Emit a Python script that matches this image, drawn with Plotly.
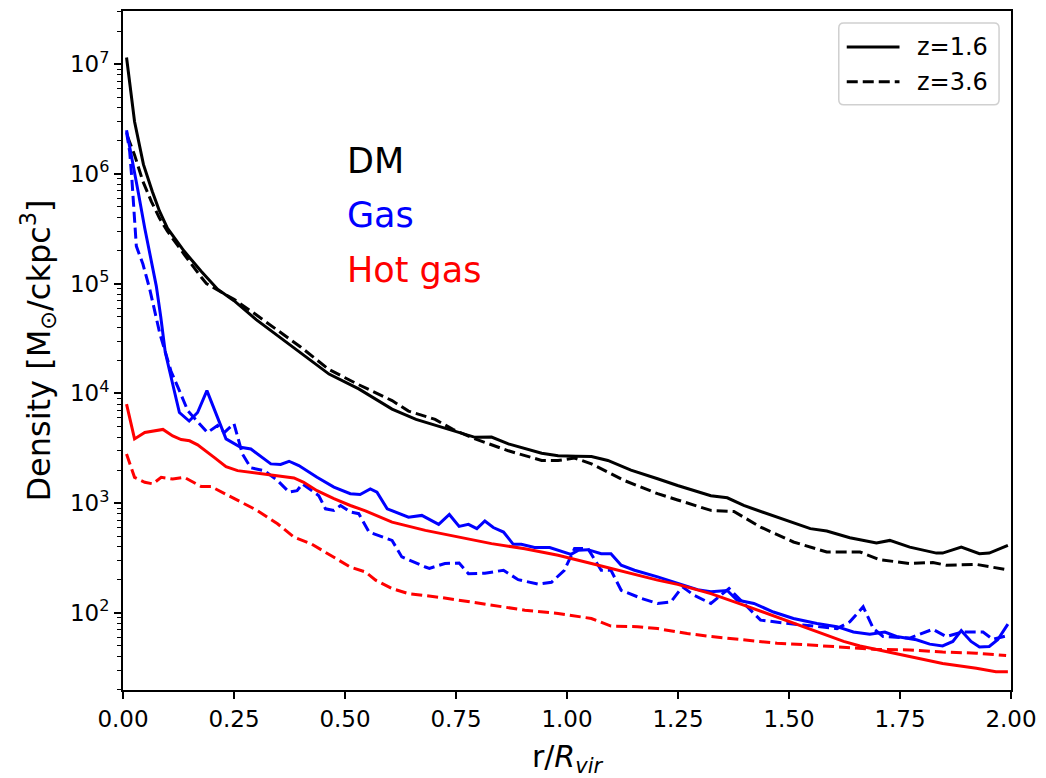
import plotly.graph_objects as go

# ---------------- data ----------------
dm_z16_x = [0.008, 0.026, 0.046, 0.066, 0.082, 0.10, 0.138, 0.176, 0.213, 0.25, 0.30, 0.35, 0.40,
            0.464, 0.531, 0.606, 0.66, 0.718, 0.75, 0.793, 0.83, 0.868, 0.943, 0.98, 1.02, 1.055,
            1.092, 1.144, 1.204, 1.249, 1.324, 1.361, 1.398, 1.473, 1.548, 1.585, 1.637, 1.697,
            1.727, 1.772, 1.832, 1.846, 1.888, 1.929, 1.951, 1.993]
dm_z16_y = [1.15e7, 3.0e6, 1.22e6, 6.9e5, 4.6e5, 3.2e5, 1.97e5, 1.3e5, 8.9e4, 7.0e4, 4.7e4, 3.3e4, 2.35e4,
            1.5e4, 1.1e4, 7.2e3, 5.8e3, 4.9e3, 4.5e3, 3.98e3, 4.0e3, 3.47e3, 2.85e3, 2.71e3, 2.68e3, 2.66e3,
            2.45e3, 2.0e3, 1.67e3, 1.45e3, 1.17e3, 1.12e3, 953, 746, 586, 557, 485, 434,
            458, 398, 351, 351, 398, 347, 351, 413]

dm_z36_x = [0.01, 0.026, 0.045, 0.064, 0.082, 0.10, 0.128, 0.138, 0.176, 0.188, 0.232, 0.25, 0.30,
            0.35, 0.40, 0.464, 0.531, 0.606, 0.643, 0.703, 0.743, 0.793, 0.868, 0.943, 0.98, 1.017,
            1.055, 1.129, 1.204, 1.249, 1.324, 1.376, 1.436, 1.51, 1.585, 1.66, 1.704, 1.772, 1.824,
            1.854, 1.922, 1.985]
dm_z36_y = [2.2e6, 1.49e6, 8.5e5, 5.6e5, 3.96e5, 3.0e5, 2.1e5, 1.84e5, 1.15e5, 1.0e5, 7.9e4, 7.2e4, 5.2e4,
            3.7e4, 2.65e4, 1.65e4, 1.2e4, 8.6e3, 6.9e3, 5.8e3, 4.7e3, 3.85e3, 3.0e3, 2.45e3, 2.45e3, 2.58e3,
            2.28e3, 1.61e3, 1.22e3, 1.07e3, 860, 841, 606, 443, 359, 359, 306, 282, 288,
            272, 277, 250]

gas_z16_x = [0.008, 0.019, 0.034, 0.049, 0.063, 0.075, 0.085, 0.095, 0.105, 0.127, 0.149, 0.168, 0.189,
             0.213, 0.232, 0.265, 0.288, 0.333, 0.355, 0.374, 0.396, 0.437, 0.475, 0.512, 0.534, 0.557,
             0.572, 0.595, 0.643, 0.673, 0.711, 0.735, 0.757, 0.778, 0.797, 0.815, 0.834, 0.857, 0.879,
             0.897, 0.927, 0.961, 0.987, 1.009, 1.025, 1.047, 1.077, 1.099, 1.122, 1.152, 1.204, 1.241,
             1.271, 1.294, 1.324, 1.361, 1.383, 1.421, 1.465, 1.51, 1.563, 1.608, 1.645, 1.682, 1.716,
             1.742, 1.787, 1.817, 1.846, 1.869, 1.888, 1.91, 1.929, 1.951, 1.97, 1.993]
gas_z16_y = [2.5e6, 1.49e6, 6.9e5, 3.2e5, 1.71e5, 9.5e4, 5.0e4, 2.4e4, 1.6e4, 6.7e3, 5.6e3, 6.7e3, 1.06e4,
             6.0e3, 3.85e3, 3.23e3, 3.12e3, 2.28e3, 2.25e3, 2.41e3, 2.2e3, 1.72e3, 1.4e3, 1.22e3, 1.2e3, 1.35e3,
             1.26e3, 889, 746, 774, 641, 789, 614, 641, 586, 688, 600, 546, 422,
             422, 394, 394, 367, 342, 372, 377, 347, 347, 272, 245, 213, 192,
             175, 163, 156, 160, 131, 122, 102, 89, 80, 75, 67, 64, 67,
             61, 57, 52, 50, 55, 69, 55, 49, 49.5, 57, 79]

gas_z36_x = [0.008, 0.015, 0.02, 0.03, 0.045, 0.06, 0.083, 0.108, 0.127, 0.146, 0.19, 0.213, 0.228,
             0.25, 0.269, 0.288, 0.318, 0.348, 0.374, 0.392, 0.404, 0.441, 0.456, 0.475, 0.49, 0.512,
             0.531, 0.554, 0.606, 0.628, 0.681, 0.69, 0.725, 0.757, 0.778, 0.815, 0.857, 0.89, 0.935,
             0.965, 0.994, 1.017, 1.047, 1.077, 1.099, 1.122, 1.167, 1.204, 1.234, 1.26, 1.286, 1.324,
             1.365, 1.398, 1.436, 1.488, 1.548, 1.608, 1.637, 1.667, 1.69, 1.712, 1.772, 1.824, 1.854,
             1.891, 1.937, 1.959, 1.99]
gas_z36_y = [2.4e6, 1.6e6, 9.0e5, 2.2e5, 1.5e5, 9.0e4, 3.5e4, 1.6e4, 1.06e4, 6.95e3, 4.4e3, 5.1e3, 4.4e3,
             5.3e3, 2.8e3, 2.1e3, 1.98e3, 1.61e3, 1.26e3, 1.3e3, 1.5e3, 1.17e3, 889, 860, 953, 830,
             802, 546, 458, 324, 262, 255, 282, 285, 228, 230, 245, 201, 183,
             190, 245, 386, 386, 245, 245, 161, 136, 122, 126, 173, 145, 122,
             167, 122, 86, 81, 76, 72, 83, 114, 72, 61, 59, 71, 61,
             67, 67, 57.5, 62]

hot_z16_x = [0.008, 0.026, 0.049, 0.09, 0.112, 0.131, 0.15, 0.168, 0.206, 0.232, 0.258, 0.318, 0.385,
             0.407, 0.437, 0.475, 0.512, 0.546, 0.606, 0.681, 0.756, 0.83, 0.905, 0.98, 1.055, 1.129,
             1.204, 1.249, 1.324, 1.398, 1.473, 1.548, 1.623, 1.66, 1.697, 1.772, 1.846, 1.922, 1.966, 1.993]
hot_z16_y = [8.0e3, 3.85e3, 4.4e3, 4.7e3, 4.1e3, 3.8e3, 3.7e3, 3.4e3, 2.6e3, 2.15e3, 1.98e3, 1.85e3, 1.70e3,
             1.55e3, 1.3e3, 1.1e3, 953, 850, 672, 565, 491, 428, 385, 335, 282, 236,
             199, 182, 150, 118, 91, 71, 55, 50, 46.5, 40, 34.7, 31.3, 29.2, 29.2]

hot_z36_x = [0.008, 0.026, 0.049, 0.067, 0.086, 0.112, 0.138, 0.176, 0.198, 0.25, 0.302, 0.348, 0.385,
             0.423, 0.475, 0.512, 0.546, 0.569, 0.606, 0.643, 0.718, 0.756, 0.83, 0.905, 0.98, 1.055,
             1.099, 1.159, 1.204, 1.271, 1.324, 1.398, 1.473, 1.548, 1.623, 1.697, 1.772, 1.846, 1.922, 1.989]
hot_z36_y = [2.8e3, 1.72e3, 1.55e3, 1.5e3, 1.72e3, 1.66e3, 1.72e3, 1.42e3, 1.42e3, 1.1e3, 860, 650, 491,
             428, 324, 262, 236, 199, 167, 150, 138, 131, 118, 106, 99, 89,
             76, 75, 72, 65, 61, 57, 53, 51, 49, 46.5, 46, 44, 43, 41]

y_major = [1e2, 1e3, 1e4, 1e5, 1e6, 1e7]
y_major_text = ["10<sup>2</sup>", "10<sup>3</sup>", "10<sup>4</sup>", "10<sup>5</sup>",
                "10<sup>6</sup>", "10<sup>7</sup>"]
x_ticks = [0, 0.25, 0.5, 0.75, 1.0, 1.25, 1.5, 1.75, 2.0]
legend_labels = ["z=1.6", "z=3.6"]
species_labels = ["DM", "Gas", "Hot gas"]

# ---------------- styling ----------------
FONT = "DejaVu Sans"
LW = 3.0
DASH = "11px,5px"
BLACK, BLUE, RED = "#000000", "#0000ff", "#ff0000"
W, H = 1046, 778
ML, MR, MT, MB = 123, 31, 9, 88
PW, PH = W - ML - MR, H - MT - MB


def px_x(px):  # pixel -> paper (layout helper)
    return (px - ML) / PW


def px_y(py):
    return (H - MB - py) / PH


y_minor = [k * 10 ** n for n in range(1, 8) for k in range(2, 10)]

fig = go.Figure()

series = [
    (dm_z16_x, dm_z16_y, BLACK, "solid"),
    (dm_z36_x, dm_z36_y, BLACK, DASH),
    (gas_z16_x, gas_z16_y, BLUE, "solid"),
    (gas_z36_x, gas_z36_y, BLUE, DASH),
    (hot_z16_x, hot_z16_y, RED, "solid"),
    (hot_z36_x, hot_z36_y, RED, DASH),
]
for xs, ys, col, dash in series:
    fig.add_trace(go.Scatter(x=xs, y=ys, mode="lines", showlegend=False,
                             line=dict(color=col, width=LW, dash=dash)))

# species labels
for txt, col, py in zip(species_labels, [BLACK, BLUE, RED], [159.7, 214, 269]):
    fig.add_annotation(x=px_x(346), xref="paper", y=px_y(py), yref="paper", text=txt,
                       showarrow=False, xanchor="left", yanchor="middle",
                       font=dict(family=FONT, size=35, color=col))

# custom legend (matplotlib-like, rounded box)
bx0, bx1, by0, by1, r = 842, 1003, 21, 103, 5
path = (f"M {px_x(bx0 + r)},{px_y(by0)} L {px_x(bx1 - r)},{px_y(by0)} "
        f"Q {px_x(bx1)},{px_y(by0)} {px_x(bx1)},{px_y(by0 + r)} "
        f"L {px_x(bx1)},{px_y(by1 - r)} Q {px_x(bx1)},{px_y(by1)} {px_x(bx1 - r)},{px_y(by1)} "
        f"L {px_x(bx0 + r)},{px_y(by1)} Q {px_x(bx0)},{px_y(by1)} {px_x(bx0)},{px_y(by1 - r)} "
        f"L {px_x(bx0)},{px_y(by0 + r)} Q {px_x(bx0)},{px_y(by0)} {px_x(bx0 + r)},{px_y(by0)} Z")
fig.add_shape(type="path", path=path, xref="paper", yref="paper",
              line=dict(color="#d0d0d0", width=1.5), fillcolor="white", layer="above")
for lab, dash, py in zip(legend_labels, ["solid", DASH], [45, 80]):
    fig.add_shape(type="line", xref="paper", yref="paper",
                  x0=px_x(850), x1=px_x(903), y0=px_y(py), y1=px_y(py),
                  line=dict(color=BLACK, width=LW, dash=dash), layer="above")
    fig.add_annotation(x=px_x(919), xref="paper", y=px_y(py), yref="paper", text=lab,
                       showarrow=False, xanchor="left", yanchor="middle",
                       font=dict(family=FONT, size=24, color=BLACK))

fig.update_layout(
    width=W, height=H,
    margin=dict(l=ML, r=MR, t=MT, b=MB),
    paper_bgcolor="white", plot_bgcolor="white",
    font=dict(family=FONT, color="black"),
    showlegend=False,
)

fig.update_xaxes(
    range=[0, 2], tickvals=x_ticks, tickformat=".2f",
    showline=True, mirror=True, linecolor="black", linewidth=1.8,
    ticks="outside", ticklen=7, tickwidth=1.6, tickcolor="black",
    tickfont=dict(family=FONT, size=23, color="black"),
    showgrid=False, zeroline=False,
    title=dict(text="r/<i>R</i><sub><i>vir</i></sub>", font=dict(family=FONT, size=30, color="black"),
               standoff=16),
)
fig.update_yaxes(
    type="log", range=[1.298, 7.484],
    tickmode="array", tickvals=y_major, ticktext=y_major_text,
    showline=True, mirror=True, linecolor="black", linewidth=1.8,
    ticks="outside", ticklen=7, tickwidth=1.6, tickcolor="black",
    tickfont=dict(family=FONT, size=23, color="black"),
    minor=dict(tickmode="array", tickvals=y_minor, ticks="outside", ticklen=4,
               tickwidth=1.2, tickcolor="black", showgrid=False),
    showgrid=False, zeroline=False,
    title=dict(text="Density [M<sub>⊙</sub>/ckpc<sup>3</sup>]",
               font=dict(family=FONT, size=32, color="black"), standoff=10),
)

fig.write_html("out.html")
